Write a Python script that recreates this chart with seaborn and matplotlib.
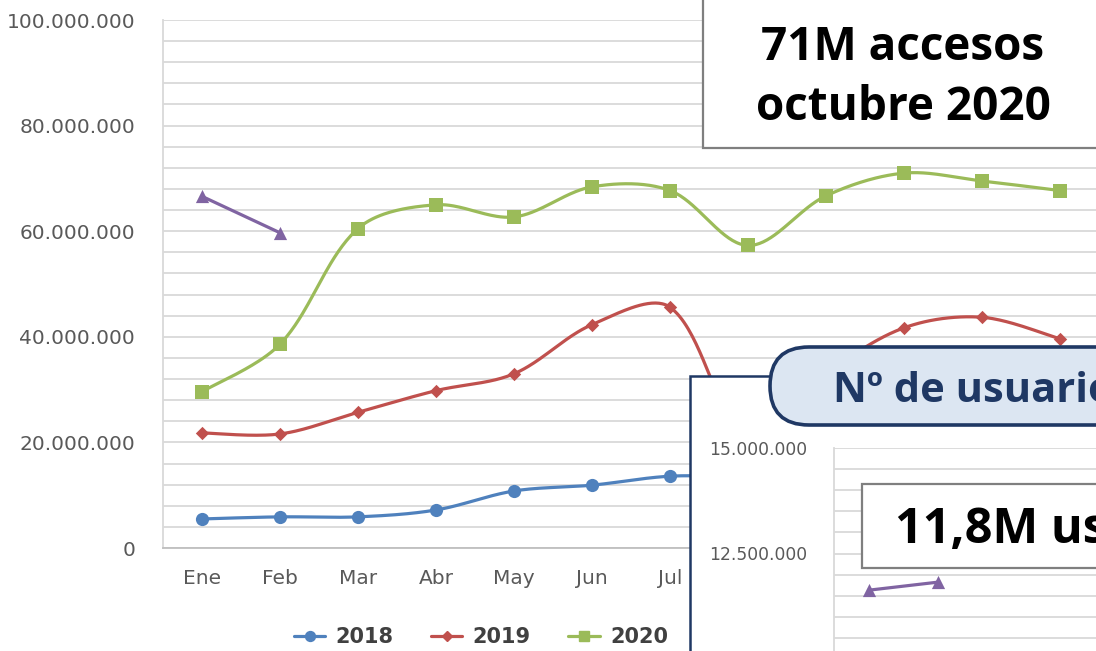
import numpy as np
import pandas as pd
import matplotlib
matplotlib.use("Agg")
import matplotlib.pyplot as plt
import seaborn as sns
from matplotlib.patches import FancyBboxPatch, Rectangle
from matplotlib.lines import Line2D
from matplotlib.transforms import IdentityTransform
from matplotlib.ticker import FuncFormatter, MultipleLocator

# ---------------- data (millions) ----------------
months = ["Ene", "Feb", "Mar", "Abr", "May", "Jun", "Jul", "Ago", "Sep", "Oct", "Nov", "Dic"]
years = ["2018", "2019", "2020", "2021"]
acc_2018 = [5.5, 5.9, 5.9, 7.2, 10.8, 11.9, 13.6, 13.5, 14.0, 14.5, 15.0, 15.5]
acc_2019 = [21.8, 21.6, 25.7, 29.8, 33.0, 42.3, 45.6, 21.0, 33.0, 41.7, 43.7, 39.6]
acc_2020 = [29.6, 38.6, 60.5, 65.0, 62.7, 68.4, 67.7, 57.3, 66.7, 71.0, 69.5, 67.7]
acc_2021 = [66.6, 59.7]
users_2021 = [11.63, 11.82]
colors = ["#4f81bd", "#c0504d", "#9bbb59", "#8064a2"]
markers = ["o", "D", "s", "^"]
msizes = [9.5, 6.8, 10.5, 9.5]
box_main = ["71M accesos", "octubre 2020"]
box_inset = "11,8M usuarios"
inset_title = "Nº de usuarios"

W, H = 1096, 651
sns.set_theme(style="white")
plt.rcParams["font.family"] = ["DejaVu Sans"]

fig = plt.figure(figsize=(W / 100, H / 100), dpi=100)
fig.patch.set_facecolor("white")


def fx(x):
    return x / W


def fy(y):
    return 1 - y / H


def smooth(vals, sx, sy, n=40):
    """Bezier smoothing (Excel-like), arms weighted by neighbouring segment lengths in pixels."""
    y = np.asarray(vals, float)
    x = np.arange(len(y), dtype=float)
    if len(y) < 3:
        return x, y
    P = np.column_stack([x * sx, y * sy])
    Pm = np.vstack([P[0], P, P[-1]])
    out = []
    for i in range(len(P) - 1):
        p0, p1, p2, p3 = Pm[i], Pm[i + 1], Pm[i + 2], Pm[i + 3]
        d01 = np.linalg.norm(p1 - p0)
        d12 = np.linalg.norm(p2 - p1)
        d23 = np.linalg.norm(p3 - p2)
        f1 = d12 / (d01 + d12) / 3 if d01 > 0 else 1 / 6
        f2 = d12 / (d12 + d23) / 3 if d23 > 0 else 1 / 6
        c1 = p1 + (p2 - p0) * f1
        c2 = p2 - (p3 - p1) * f2
        t = np.linspace(0, 1, n, endpoint=(i == len(P) - 2))[:, None]
        B = (1 - t) ** 3 * p1 + 3 * (1 - t) ** 2 * t * c1 + 3 * (1 - t) * t ** 2 * c2 + t ** 3 * p2
        out.append(B)
    B = np.vstack(out)
    return B[:, 0] / sx, B[:, 1] / sy


def fmt(v, pos):
    return f"{int(round(v * 1e6)):,}".replace(",", ".")


grid_c = "#d9d9d9"
tick_c = "#595959"

# ---------------- main axes ----------------
ax = fig.add_axes([fx(163), fy(548), 936 / W, 528 / H])
ax.set_zorder(0)
ax.set_facecolor("white")
series = [acc_2018, acc_2019, acc_2020, acc_2021]
rows = []
for yr, vals in zip(years, series):
    xs, ys = smooth(vals, 78.0, 5.28)
    rows.append(pd.DataFrame({"x": xs, "y": ys, "year": yr}))
curves = pd.concat(rows, ignore_index=True)
sns.lineplot(data=curves, x="x", y="y", hue="year", palette=dict(zip(years, colors)),
             sort=False, estimator=None, legend=False, lw=2.3, ax=ax, zorder=3)
for yr, vals, c, m, ms in zip(years, series, colors, markers, msizes):
    pts = pd.DataFrame({"x": np.arange(len(vals)), "y": vals})
    sns.scatterplot(data=pts, x="x", y="y", color=c, marker=m, s=ms ** 2,
                    linewidth=0, legend=False, ax=ax, zorder=4)

ax.set_xlim(-0.5, 11.5)
ax.set_ylim(0, 100)
ax.set_xticks(range(12))
ax.set_xticklabels(months)
ax.yaxis.set_major_locator(MultipleLocator(20))
ax.yaxis.set_minor_locator(MultipleLocator(4))
ax.yaxis.set_major_formatter(FuncFormatter(fmt))
ax.grid(True, which="both", axis="y", color=grid_c, lw=1.3)
ax.set_axisbelow(True)
ax.tick_params(axis="y", which="both", length=0, pad=20, labelsize=14.5, labelcolor=tick_c)
ax.tick_params(axis="x", length=0, pad=15, labelsize=14.5, labelcolor=tick_c)
ax.set_xlabel("")
ax.set_ylabel("")
for s in ["top", "right"]:
    ax.spines[s].set_visible(False)
ax.spines["left"].set_color(grid_c)
ax.spines["left"].set_linewidth(1.3)
ax.spines["bottom"].set_color("#bfbfbf")
ax.spines["bottom"].set_linewidth(1.3)

handles = [Line2D([], [], color=c, marker=m, ms=ms * 0.75, lw=2.3)
           for c, m, ms in zip(colors, markers, msizes)]
ax.legend(handles, years, loc="center left", bbox_to_anchor=(fx(294), fy(637)),
          bbox_transform=fig.transFigure, ncol=4, frameon=False, handlelength=1.5,
          handletextpad=0.5, columnspacing=1.8, borderpad=0, borderaxespad=0,
          prop=dict(weight="bold", size=15), labelcolor="#404040")

# ---------------- top annotation box ----------------
fig.add_artist(Rectangle((703, H - 148), 420, 160, transform=IdentityTransform(),
                         facecolor="white", edgecolor="#7f7f7f", lw=1.6, zorder=1))
for txt, yb in zip(box_main, [60, 120]):
    fig.text(fx(903), fy(yb), txt, ha="center", va="baseline", fontsize=33,
             fontweight="bold", family=["Open Sans", "DejaVu Sans"], color="black", zorder=5)

# ---------------- inset panel ----------------
fig.add_artist(Rectangle((690, -30), 460, H - 376 + 30, transform=IdentityTransform(),
                         facecolor="white", edgecolor="#1f3864", lw=1.8, zorder=1))

iax = fig.add_axes([fx(834), fy(659), 828 / W, 211 / H])
iax.set_zorder(2)
iax.set_facecolor("none")
xs, ys = smooth(users_2021, 69.0, 42.2)
sns.lineplot(x=xs, y=ys, color=colors[3], lw=2.3, ax=iax, sort=False, estimator=None, zorder=3)
sns.scatterplot(x=np.arange(len(users_2021)), y=users_2021, color=colors[3], marker="^",
                s=msizes[3] ** 2, linewidth=0, legend=False, ax=iax, zorder=4)
iax.set_xlim(-0.5, 11.5)
iax.set_ylim(10, 15)
iax.set_xticks([])
iax.yaxis.set_major_locator(MultipleLocator(2.5))
iax.yaxis.set_minor_locator(MultipleLocator(0.5))
iax.yaxis.set_major_formatter(FuncFormatter(fmt))
iax.grid(True, which="both", axis="y", color=grid_c, lw=1.3)
iax.set_axisbelow(True)
iax.tick_params(axis="y", which="both", length=0, pad=19, labelsize=12.3, labelcolor=tick_c)
for s in ["top", "right", "bottom"]:
    iax.spines[s].set_visible(False)
iax.spines["left"].set_color(grid_c)
iax.spines["left"].set_linewidth(1.3)

# pill title
fig.add_artist(FancyBboxPatch((770, H - 425), 420, 78, boxstyle="round,pad=0,rounding_size=39",
                              transform=IdentityTransform(), facecolor="#dce6f2",
                              edgecolor="#1f3864", lw=2.6, zorder=3))
fig.text(fx(833), fy(402), inset_title, ha="left", va="baseline", fontsize=30,
         fontweight="bold", family=["Open Sans", "DejaVu Sans"], color="#1f3864", zorder=5)

# inset value box
fig.add_artist(Rectangle((862, H - 568), 500, 84, transform=IdentityTransform(),
                         facecolor="white", edgecolor="#7f7f7f", lw=1.6, zorder=3))
fig.text(fx(895), fy(543), box_inset, ha="left", va="baseline", fontsize=35,
         fontweight="bold", family=["Open Sans", "DejaVu Sans"], color="black", zorder=5)

fig.savefig("out.png", dpi=100, facecolor="white")
